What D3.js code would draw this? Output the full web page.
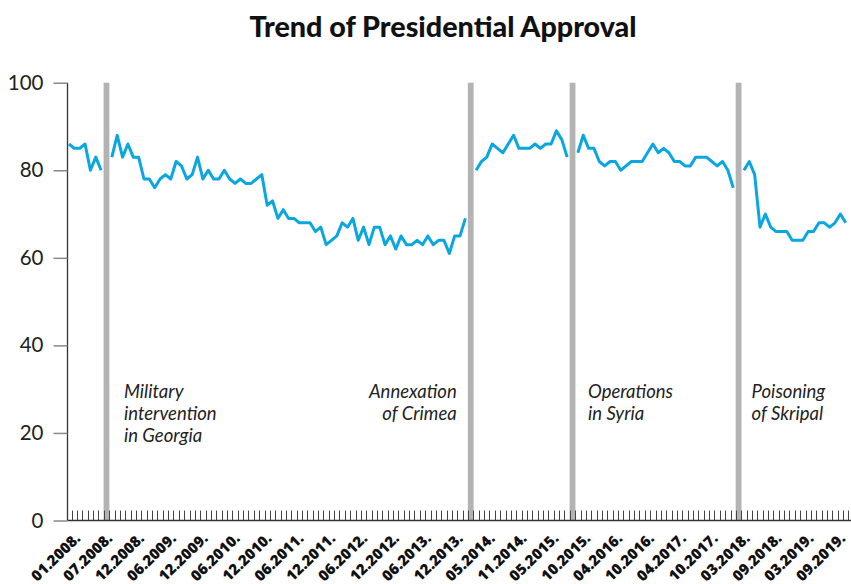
<!DOCTYPE html>
<html>
<head>
<meta charset="utf-8">
<script src="https://cdn.jsdelivr.net/npm/d3@7"></script>
<style>
  html, body { margin: 0; padding: 0; background: #fff; }
  svg { display: block; }
</style>
</head>
<body>
<svg id="chart" width="851" height="584"></svg>
<script>
// ---- Data (monthly approval, %), split by events ----
const beforeGeorgia = [86,85,85,86,80,83,80];
const georgiaToCrimea = [83,88,83,86,83,83,78,78,76,78,79,78,82,81,78,79,83,78,80,78,78,80,78,77,78,77,77,78,79,72,73,69,71,69,69,68,
  68,68,66,67,63,
  64,65,68,67,69,64,67,63,67,67,63,65,62,65,63,63,64,63,65,63,64,64,61,65,65,69];
const crimeaToSyria = [80,82,83,86,85,84,86,88,85,85,85,86,85,86,86,89,87,83];
const syriaToSkripal = [84,88,85,85,82,81,82,82,80,81,82,82,82,84,86,84,85,84,82,82,81,81,83,83,83,82,81,82,80,76];
const afterSkripal = [80,82,79,67,70,67,66,66,66,64,64,64,66,66,68,68,67,68,70,68];

const eventNames = [
  ["Military", "intervention", "in Georgia"],
  ["Annexation", "of Crimea"],
  ["Operations", "in Syria"],
  ["Poisoning", "of Skripal"]
];
const tickLabels = ["01.2008.","07.2008.","12.2008.","06.2009.","12.2009.","06.2010.","12.2010.",
  "06.2011.","12.2011.","06.2012.","12.2012.","06.2013.","12.2013.","05.2014.","11.2014.",
  "05.2015.","10.2015.","04.2016.","10.2016.","04.2017.","10.2017.","03.2018.","09.2018.",
  "03.2019.","09.2019."];
const yTicks = [0, 20, 40, 60, 80, 100];
const chartTitle = "Trend of Presidential Approval";

// ---- Build slot sequence: each event occupies one empty slot ----
const segments = [beforeGeorgia, georgiaToCrimea, crimeaToSyria, syriaToSkripal, afterSkripal];
const values = [];
const eventSlots = [];
segments.forEach((seg, i) => {
  seg.forEach(v => values.push(v));
  if (i < segments.length - 1) { eventSlots.push(values.length); values.push(null); }
});
const slots = d3.range(values.length);

// ---- Layout ----
const svg = d3.select("#chart");
const axisX = 67.5, plotBottom = 520.5, plotTop = 82.7;
const x = d3.scaleBand().domain(slots).range([66.3, 848.4]).padding(0);
const bw = x.bandwidth();
const cx = i => x(i) + bw / 2;
const y = d3.scaleLinear().domain([0, 100]).range([plotBottom, plotTop]);

svg.append("rect").attr("width", 851).attr("height", 584).attr("fill", "#fff");

// Title
svg.append("text")
  .attr("x", 443).attr("y", 37)
  .attr("text-anchor", "middle")
  .style("font-family", "Lato, 'Open Sans', sans-serif")
  .style("font-weight", 900)
  .style("font-size", "28.7px")
  .attr("fill", "#111")
  .text(chartTitle);

// Event bars
svg.append("g").selectAll("rect").data(eventSlots).join("rect")
  .attr("x", d => cx(d) - 2.9)
  .attr("width", 5.8)
  .attr("y", plotTop)
  .attr("height", plotBottom - plotTop)
  .attr("fill", "#b3b3b3");

// X small ticks at band boundaries
svg.append("g").selectAll("line").data(slots).join("line")
  .attr("x1", d => Math.round(x(d) + bw) + 0.5)
  .attr("x2", d => Math.round(x(d) + bw) + 0.5)
  .attr("y1", plotBottom - 10)
  .attr("y2", plotBottom)
  .attr("stroke", "#444")
  .attr("stroke-width", 1);

// X axis line
svg.append("line")
  .attr("x1", axisX).attr("x2", 851)
  .attr("y1", plotBottom).attr("y2", plotBottom)
  .attr("stroke", "#333").attr("stroke-width", 1.3);

// Y axis via d3.axisLeft
const yAxis = d3.axisLeft(y).tickValues(yTicks).tickSize(14).tickPadding(10).tickFormat(d3.format("d"));
const yg = svg.append("g").attr("transform", `translate(${axisX},0)`).call(yAxis);
yg.select(".domain").attr("stroke", "#333").attr("stroke-width", 1.3)
  .attr("d", `M0,${plotTop}V${plotBottom}`);
yg.selectAll(".tick line").attr("stroke", "#888").attr("stroke-width", 1.5);
yg.selectAll(".tick text")
  .style("font-family", "Lato, sans-serif")
  .style("font-weight", 400)
  .style("font-size", "20.5px")
  .attr("fill", "#222");

// X tick labels (every 6th slot), rotated
const labelSlots = tickLabels.map((_, i) => i * 6);
const labelX = d3.scaleLinear().domain([0, 144]).range([cx(0) + 12.5, cx(144) + 6]);
svg.append("g").selectAll("text").data(tickLabels).join("text")
  .attr("transform", (d, i) => `translate(${labelX(labelSlots[i])},${plotBottom + 19}) rotate(-44)`)
  .attr("text-anchor", "end")
  .style("font-family", "'Open Sans', sans-serif")
  .style("font-weight", 800)
  .style("font-size", "15px")
  .attr("fill", "#111")
  .text(d => d);

// Line
const line = d3.line()
  .defined(d => values[d] != null)
  .x(d => cx(d))
  .y(d => y(values[d]));
svg.append("path")
  .datum(slots)
  .attr("d", line)
  .attr("fill", "none")
  .attr("stroke", "#0aa6e0")
  .attr("stroke-width", 3)
  .attr("stroke-linejoin", "round");

// Event labels
const anchors = ["start", "end", "start", "start"];
const offsets = [17.5, -14, 15.5, 13];
const eg = svg.append("g")
  .style("font-family", "Lato, sans-serif")
  .style("font-style", "italic")
  .style("font-size", "18.5px")
  .attr("fill", "#222");
eventSlots.forEach((s, i) => {
  const t = eg.append("text")
    .attr("x", cx(s) + offsets[i])
    .attr("y", 398)
    .attr("text-anchor", anchors[i]);
  eventNames[i].forEach((ln, j) => {
    t.append("tspan").attr("x", cx(s) + offsets[i]).attr("dy", j === 0 ? 0 : 21.8).text(ln);
  });
});
</script>
</body>
</html>
